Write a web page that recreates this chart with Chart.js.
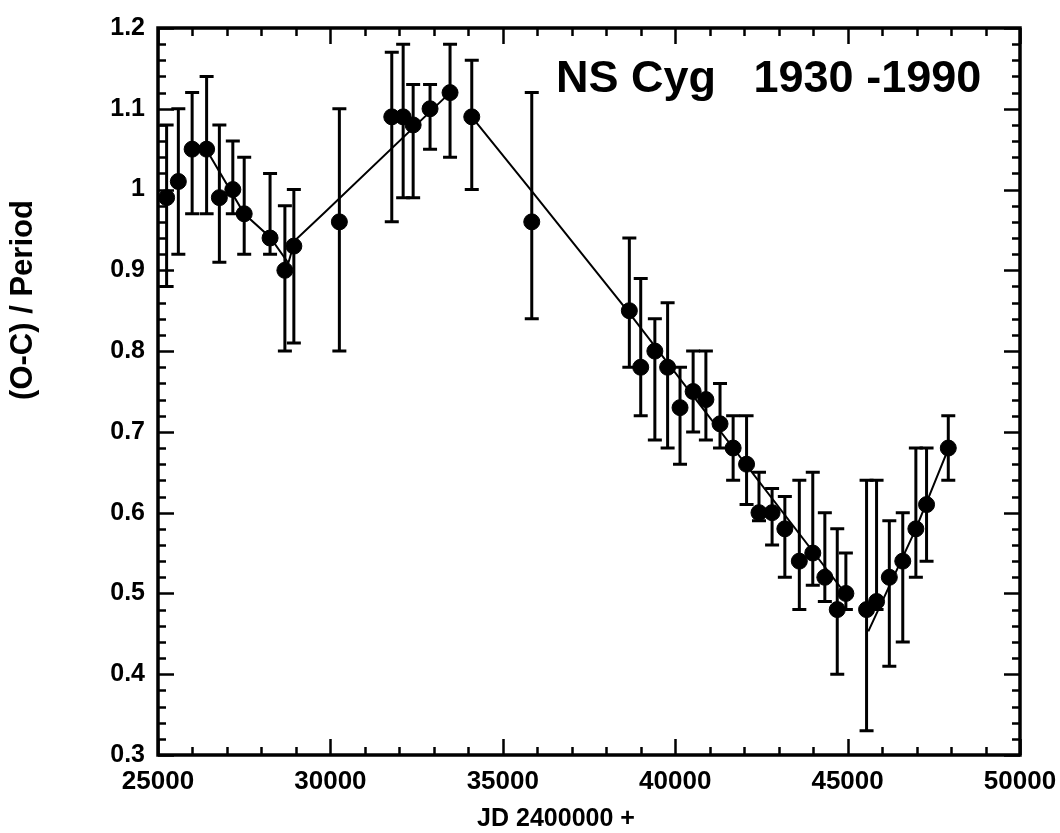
<!DOCTYPE html>
<html>
<head>
<meta charset="utf-8">
<script src="https://cdn.jsdelivr.net/npm/chart.js@4.4.0/dist/chart.umd.min.js"></script>
<style>
  html, body { margin: 0; padding: 0; background: #fff; }
</style>
</head>
<body>
<canvas id="myChart" width="1060" height="833"></canvas>
<script>
// observed timings (JD - 2400000) and (O-C)/Period
const jd = [25250, 25590, 25990, 26410, 26780, 27170, 27500, 28250, 28680, 28940,
            30260, 31780, 32110, 32400, 32890, 33470, 34100, 35840,
            38670, 39000, 39410, 39780, 40140, 40520, 40890, 41300, 41680, 42070,
            42430, 42810, 43180, 43600, 43990, 44340, 44700, 44950,
            45550, 45840, 46210, 46600, 46980, 47290, 47920];
const oc = [0.99, 1.01, 1.05, 1.05, 0.99, 1.00, 0.97, 0.94, 0.90, 0.93,
            0.96, 1.09, 1.09, 1.08, 1.10, 1.12, 1.09, 0.96,
            0.85, 0.78, 0.80, 0.78, 0.73, 0.75, 0.74, 0.71, 0.68, 0.66,
            0.60, 0.60, 0.58, 0.54, 0.55, 0.52, 0.48, 0.50,
            0.48, 0.49, 0.52, 0.54, 0.58, 0.61, 0.68];
const errLow = [0.88, 0.92, 0.97, 0.97, 0.91, 0.97, 0.92, 0.92, 0.80, 0.81,
                0.80, 0.96, 0.99, 0.99, 1.05, 1.04, 1.00, 0.84,
                0.78, 0.72, 0.69, 0.68, 0.66, 0.70, 0.69, 0.68, 0.64, 0.61,
                0.59, 0.56, 0.52, 0.48, 0.51, 0.49, 0.40, 0.48,
                0.33, 0.48, 0.41, 0.44, 0.52, 0.54, 0.64];
const errHigh = [1.08, 1.10, 1.12, 1.14, 1.08, 1.06, 1.04, 1.02, 0.98, 1.00,
                 1.10, 1.17, 1.18, 1.13, 1.13, 1.18, 1.16, 1.12,
                 0.94, 0.89, 0.84, 0.86, 0.78, 0.80, 0.80, 0.76, 0.72, 0.72,
                 0.65, 0.63, 0.62, 0.64, 0.65, 0.60, 0.58, 0.55,
                 0.64, 0.64, 0.59, 0.60, 0.68, 0.68, 0.72];

// fitted segments
const fit1X = [26410, 27500, 28250, 28780, 28970, 29840, 33470];
const fit1Y = [1.049, 0.970, 0.941, 0.909, 0.937, 0.972, 1.12];
const fit2X = [34100, 35840, 38670, 44950];
const fit2Y = [1.09, 0.998, 0.847, 0.499];
const fit3X = [45600, 46980, 47920];
const fit3Y = [0.453, 0.58, 0.679];

const xTickLabels = [25000, 30000, 35000, 40000, 45000, 50000];
const yTickLabels = [0.3, 0.4, 0.5, 0.6, 0.7, 0.8, 0.9, 1, 1.1, 1.2];

const toXY = (xs, ys) => xs.map((x, i) => ({x: x, y: ys[i]}));
const FONT = '"Liberation Sans", Arial, sans-serif';

const frame = {
    id: 'frame_errorbars',
    beforeDatasetsDraw: (chart) => {
        const ctx = chart.ctx;
        const xs = chart.scales.x, ys = chart.scales.y;
        ctx.save();
        ctx.strokeStyle = '#000';
        ctx.lineWidth = 3;
        jd.forEach((v, i) => {
            const px = xs.getPixelForValue(v);
            const lo = ys.getPixelForValue(errLow[i]);
            const hi = ys.getPixelForValue(errHigh[i]);
            ctx.beginPath();
            ctx.moveTo(px, lo); ctx.lineTo(px, hi);
            ctx.moveTo(px - 7, lo); ctx.lineTo(px + 7, lo);
            ctx.moveTo(px - 7, hi); ctx.lineTo(px + 7, hi);
            ctx.stroke();
        });
        ctx.restore();
    },
    afterDraw: (chart) => {
        const ctx = chart.ctx;
        const a = chart.chartArea;
        const xs = chart.scales.x, ys = chart.scales.y;
        ctx.save();
        ctx.strokeStyle = '#000';
        ctx.lineWidth = 2.5;
        ctx.beginPath();
        for (let k = 15; k <= 60; k++) {
            const py = Math.round(ys.getPixelForValue(k / 50)) + 0.5;
            const len = k % 5 === 0 ? 16 : 8;
            ctx.moveTo(a.left, py); ctx.lineTo(a.left + len, py);
            ctx.moveTo(a.right, py); ctx.lineTo(a.right - len, py);
        }
        for (let v = 25000; v <= 50000; v += 1000) {
            const px = Math.round(xs.getPixelForValue(v)) + 0.5;
            const len = v % 5000 === 0 ? 16 : 8;
            ctx.moveTo(px, a.bottom); ctx.lineTo(px, a.bottom - len);
            ctx.moveTo(px, a.top); ctx.lineTo(px, a.top + len);
        }
        ctx.stroke();
        ctx.lineWidth = 3.5;
        ctx.strokeRect(a.left, a.top, a.right - a.left, a.bottom - a.top);

        ctx.fillStyle = '#000';
        ctx.font = 'bold 45px ' + FONT;
        ctx.textBaseline = 'alphabetic';
        ctx.textAlign = 'left';
        ctx.fillText('NS Cyg   1930 -1990', 556, 92);

        ctx.font = 'bold 25px ' + FONT;
        ctx.textAlign = 'center';
        ctx.fillText('JD 2400000 +', 556, 826);

        ctx.translate(23, 300);
        ctx.rotate(-Math.PI / 2);
        ctx.textBaseline = 'middle';
        ctx.font = 'bold 31px ' + FONT;
        ctx.fillText('(O-C) / Period', 0, 0);
        ctx.restore();
    }
};

let ctx = document.getElementById('myChart').getContext('2d');
let myChart = new Chart(ctx, {
    type: 'scatter',
    data: {
        datasets: [{
            data: toXY(jd, oc),
            backgroundColor: '#000',
            borderColor: '#000',
            pointRadius: 8,
            pointHoverRadius: 8
        }, {
            type: 'line',
            data: toXY(fit1X, fit1Y),
            borderColor: '#000',
            borderWidth: 2,
            pointRadius: 0,
            tension: 0
        }, {
            type: 'line',
            data: toXY(fit2X, fit2Y),
            borderColor: '#000',
            borderWidth: 2,
            pointRadius: 0,
            tension: 0
        }, {
            type: 'line',
            data: toXY(fit3X, fit3Y),
            borderColor: '#000',
            borderWidth: 2,
            pointRadius: 0,
            tension: 0
        }]
    },
    options: {
        responsive: false,
        animation: false,
        layout: { padding: { top: 18, right: 40, left: 0, bottom: 0 } },
        plugins: { legend: { display: false }, tooltip: { enabled: false } },
        scales: {
            x: {
                type: 'linear',
                min: 25000,
                max: 50000,
                afterFit: (s) => { s.height = 78; s.paddingRight = 0; },
                afterBuildTicks: (s) => { s.ticks = xTickLabels.map(v => ({value: v})); },
                grid: { display: false, drawTicks: false },
                border: { display: false },
                ticks: {
                    padding: 11,
                    color: '#000',
                    font: { family: FONT, size: 26, weight: 'bold' },
                    callback: (v) => String(v)
                }
            },
            y: {
                min: 0.3,
                max: 1.2,
                afterFit: (s) => { s.width = 158; },
                afterBuildTicks: (s) => { s.ticks = yTickLabels.map(v => ({value: v})); },
                grid: { display: false, drawTicks: false },
                border: { display: false },
                ticks: {
                    padding: 13,
                    color: '#000',
                    font: { family: FONT, size: 25, weight: 'bold' },
                    callback: (v) => String(Math.round(v * 10) / 10)
                }
            }
        }
    },
    plugins: [frame]
});
</script>
</body>
</html>
